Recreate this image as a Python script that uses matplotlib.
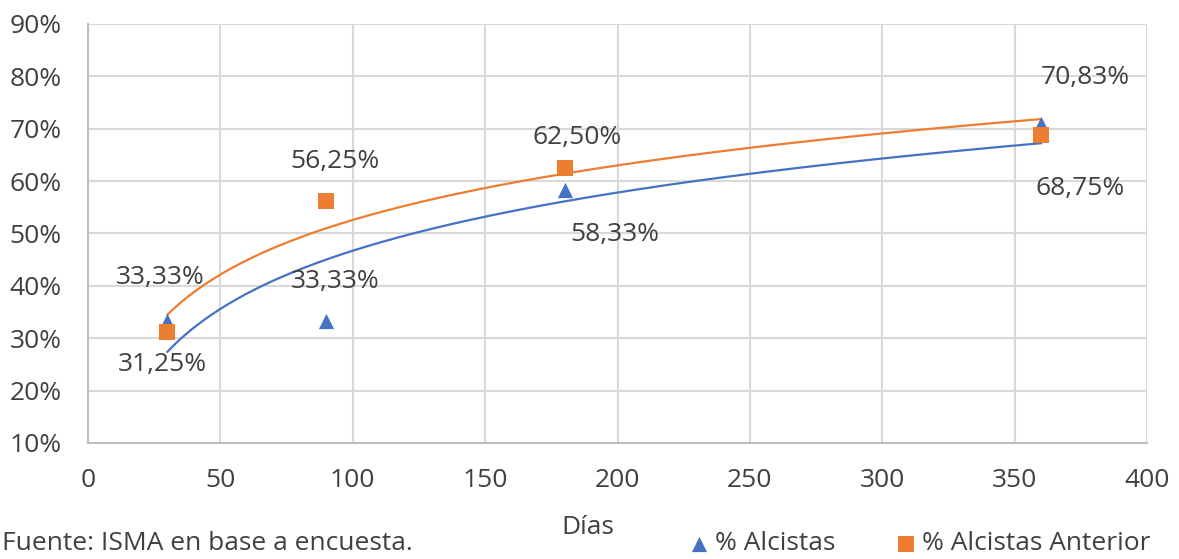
import numpy as np
import matplotlib
matplotlib.use("Agg")
import matplotlib.pyplot as plt
from matplotlib.ticker import FuncFormatter

dias = [30, 90, 180, 360]
alcistas = [33.33, 33.33, 58.33, 70.83]
alcistas_ant = [31.25, 56.25, 62.50, 68.75]
x_ticks = [0, 50, 100, 150, 200, 250, 300, 350, 400]
y_ticks = [10, 20, 30, 40, 50, 60, 70, 80, 90]

BLUE = "#4472C4"
ORANGE = "#ED7D31"
TXT = "#404040"
GRID = "#D9D9D9"
FS = 19

plt.rcParams['font.family'] = ['Open Sans', 'DejaVu Sans']

fig = plt.figure(figsize=(11.79, 5.59), dpi=100)
ax = fig.add_axes([88/1179, 1-443/559, (1147-88)/1179, (443-24)/559])

ax.set_xlim(0, 400)
ax.set_ylim(10, 90)
ax.set_xticks(x_ticks)
ax.set_yticks(y_ticks)
ax.yaxis.set_major_formatter(FuncFormatter(lambda v, p: f"{int(v)}%"))
ax.grid(True, color=GRID, linewidth=1.5)
ax.set_axisbelow(True)
for s in ['top', 'right']:
    ax.spines[s].set_visible(False)
for s in ['left', 'bottom']:
    ax.spines[s].set_color("#BFBFBF")
    ax.spines[s].set_linewidth(1.5)
ax.tick_params(length=0, labelsize=FS, colors=TXT)
ax.tick_params(axis='x', pad=18)
ax.tick_params(axis='y', pad=19)

# log trendlines (Excel-style logarithmic fit of the series)
xs = np.linspace(min(dias), max(dias), 200)
for ys, c in [(alcistas, BLUE), (alcistas_ant, ORANGE)]:
    b, a = np.polyfit(np.log(dias), ys, 1)
    ax.plot(xs, a + b*np.log(xs), color=c, linewidth=1.6, zorder=2)

ax.scatter(dias, alcistas, marker='^', s=120, color=BLUE, zorder=3, label='% Alcistas', linewidths=0)
ax.scatter(dias, alcistas_ant, marker='s', s=120, color=ORANGE, zorder=4, label='% Alcistas Anterior', linewidths=0)

def fmt(v):
    return f"{v:.2f}".replace('.', ',') + "%"

off_blue = [(-7, 43), (9, 39), (50, -45), (44, 47)]
off_or = [(-5, -33), (9, 39), (13, 31), (39, -53)]
for x, y, o in zip(dias, alcistas, off_blue):
    ax.annotate(fmt(y), (x, y), xytext=o, textcoords='offset pixels',
                ha='center', va='center', fontsize=FS, color=TXT)
for x, y, o in zip(dias, alcistas_ant, off_or):
    ax.annotate(fmt(y), (x, y), xytext=o, textcoords='offset pixels',
                ha='center', va='center', fontsize=FS, color=TXT)

fig.text(588/1179, 1-527/559, "Días", ha='center', va='center', fontsize=FS, color=TXT)
fig.text(2/1179, 1-544/559, "Fuente: ISMA en base a encuesta.", ha='left', va='center', fontsize=FS, color=TXT)

leg = fig.legend(loc='center', bbox_to_anchor=(918/1179, 1-544/559), ncol=2, frameon=False,
                 fontsize=FS, handletextpad=0.1, columnspacing=2.2, markerscale=1.0,
                 handlelength=1.0, borderpad=0.1)
for t in leg.get_texts():
    t.set_color(TXT)

fig.savefig("out.png", dpi=100)
